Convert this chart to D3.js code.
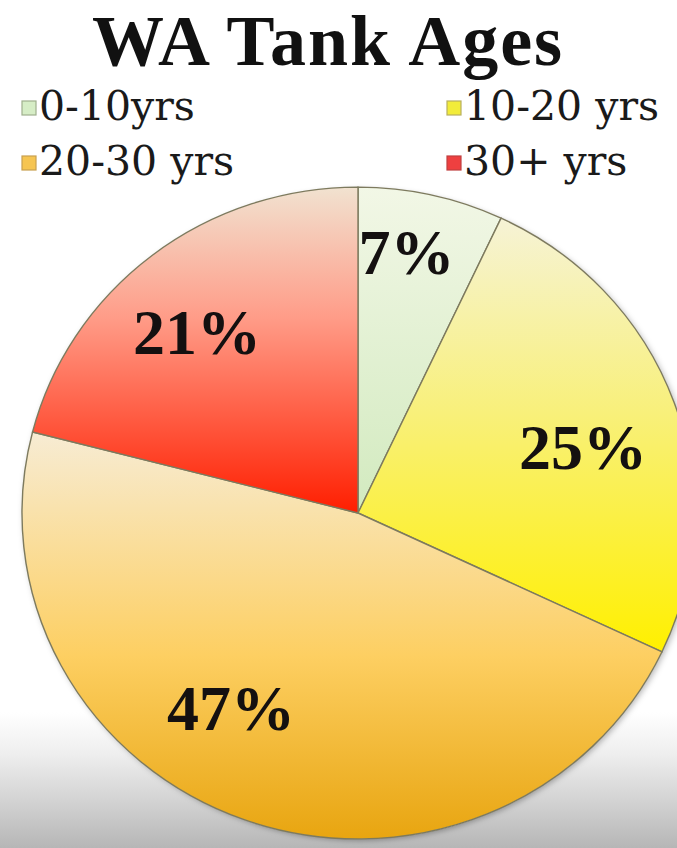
<!DOCTYPE html>
<html>
<head>
<meta charset="utf-8">
<script src="https://cdn.jsdelivr.net/npm/d3@7"></script>
<style>
  html, body { margin: 0; padding: 0; background: #fff; }
  svg { display: block; }
</style>
</head>
<body>
<svg id="chart" width="677" height="848"></svg>
<script>
// ---- data ----
const categories = ["0-10yrs", "10-20 yrs", "20-30 yrs", "30+ yrs"];
const values = [7, 25, 47, 21];
const labels = ["7%", "25%", "47%", "21%"];
const titleText = "WA Tank Ages";

// ---- layout / style ----
const W = 677, H = 848;
const cx = 358, cy = 513, R = 336, squash = 0.97;
const gradStops = [
  [["0", "#f2f7e6"], ["1", "#d2eabf"]],
  [["0", "#f6f3d6"], ["0.45", "#f8f07a"], ["1", "#fff000"]],
  [["0", "#f7ecd4"], ["0.55", "#fdcf62"], ["1", "#e8a510"]],
  [["0", "#f1e2d0"], ["0.4", "#ff9c88"], ["1", "#ff1e00"]]
];
const legendFill = ["#d6edc6", "#f2ec3a", "#f6c552", "#ee4040"];
const legendStroke = ["#9fb08e", "#b8b060", "#c8a050", "#c04040"];
const labelNudge = [[-5, -29], [-5.5, 14.5], [-44, -28.6], [-10.8, 6.8]];

const svg = d3.select("#chart");
const defs = svg.append("defs");

// background with video-like gray fade at bottom
const bg = defs.append("linearGradient").attr("id", "bg")
  .attr("x1", 0).attr("y1", 0).attr("x2", 0).attr("y2", 1);
[["0", "#ffffff"], ["0.84", "#ffffff"], ["0.89", "#eeeeee"], ["0.95", "#d0d0d0"], ["1", "#b6b6b6"]]
  .forEach(s => bg.append("stop").attr("offset", s[0]).attr("stop-color", s[1]));
svg.append("rect").attr("width", W).attr("height", H).attr("fill", "url(#bg)");

gradStops.forEach((stops, i) => {
  const g = defs.append("linearGradient").attr("id", "g" + i)
    .attr("x1", 0).attr("y1", 0).attr("x2", 0).attr("y2", 1);
  stops.forEach(s => g.append("stop").attr("offset", s[0]).attr("stop-color", s[1]));
});

const shadow = defs.append("filter").attr("id", "shadow")
  .attr("x", "-10%").attr("y", "-10%").attr("width", "120%").attr("height", "120%");
shadow.append("feDropShadow").attr("dx", 2).attr("dy", 2).attr("stdDeviation", 3)
  .attr("flood-color", "#000").attr("flood-opacity", 0.28);

// title
svg.append("text")
  .attr("x", 328).attr("y", 65)
  .attr("text-anchor", "middle")
  .attr("font-family", "'Liberation Serif', 'Times New Roman', serif")
  .attr("font-weight", "bold")
  .attr("font-size", 72)
  .attr("letter-spacing", 2)
  .attr("fill", "#111")
  .text(titleText);

// legend
const legendPos = [[22, 120], [447, 120], [22, 175], [447, 175]];
const lg = svg.append("g");
categories.forEach((c, i) => {
  const [lx, ly] = legendPos[i];
  lg.append("rect")
    .attr("x", lx).attr("y", ly - 19).attr("width", 14).attr("height", 14)
    .attr("fill", legendFill[i]).attr("stroke", legendStroke[i]).attr("stroke-width", 1.2);
  lg.append("text")
    .attr("x", lx + 17).attr("y", ly)
    .attr("font-family", "'DejaVu Serif', serif")
    .attr("font-size", 41)
    .attr("fill", "#1a1a1a")
    .text(c);
});

// pie
const pie = d3.pie().sort(null).value(d => d)(values);
const arc = d3.arc().innerRadius(0).outerRadius(R);
const labelArc = d3.arc().innerRadius(245).outerRadius(245);

const pg = svg.append("g")
  .attr("transform", `translate(${cx},${cy}) scale(1,${squash})`);
pg.append("circle").attr("r", R).attr("fill", "#fff").attr("filter", "url(#shadow)");
pg.selectAll("path.slice").data(pie).enter().append("path")
  .attr("class", "slice")
  .attr("d", arc)
  .attr("fill", (d, i) => `url(#g${i})`)
  .attr("stroke", "#7d7a5e")
  .attr("stroke-width", 1.4)
  .attr("vector-effect", "non-scaling-stroke");

// labels
svg.selectAll("text.pct").data(pie).enter().append("text")
  .attr("class", "pct")
  .attr("x", (d, i) => cx + labelArc.centroid(d)[0] + labelNudge[i][0])
  .attr("y", (d, i) => cy + labelArc.centroid(d)[1] * squash + labelNudge[i][1])
  .attr("dy", "0.34em")
  .attr("text-anchor", "middle")
  .attr("font-family", "'Liberation Serif', 'Times New Roman', serif")
  .attr("font-weight", "bold")
  .attr("font-size", 64)
  .attr("fill", "#141010")
  .text((d, i) => labels[i]);
</script>
</body>
</html>
